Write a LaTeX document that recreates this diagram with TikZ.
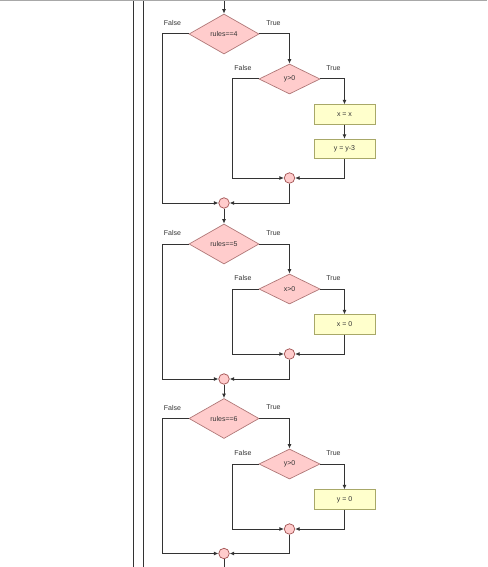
\documentclass[tikz,border=0pt]{standalone}
\usepackage{fontspec}
\setmainfont{Liberation Sans}
\usetikzlibrary{shapes.geometric,arrows.meta}
\definecolor{linec}{HTML}{333333}
\definecolor{decfill}{HTML}{FFCCCC}
\definecolor{decdraw}{HTML}{B07878}
\definecolor{boxfill}{HTML}{FFFFCC}
\definecolor{boxdraw}{HTML}{A8A868}
\definecolor{cirdraw}{HTML}{A05050}
\definecolor{topgray}{HTML}{A8A8A8}
\tikzset{
  every node/.style={font=\fontsize{7}{8}\selectfont, text=linec},
  bigdec/.style={diamond, aspect=1.75, inner sep=0pt, minimum width=70pt, minimum height=40pt, fill=decfill, draw=decdraw, line width=0.7pt},
  smalldec/.style={diamond, aspect=1.75, inner sep=0pt, minimum width=61pt, minimum height=30pt, fill=decfill, draw=decdraw, line width=0.7pt},
  actbox/.style={rectangle, inner sep=0pt, minimum width=61pt, minimum height=19.5pt, fill=boxfill, draw=boxdraw, line width=0.7pt},
  joincirc/.style={circle, inner sep=0pt, minimum size=10.5pt, fill=decfill, draw=cirdraw, line width=0.7pt},
  lbl/.style={inner sep=0pt},
  conn/.style={draw=linec, line width=1pt},
  arr/.style={conn, -{Latex[length=4.5pt,width=4pt]}},
}
\begin{document}
\begin{tikzpicture}[x=1pt,y=-1pt]
\useasboundingbox (0,0) rectangle (487,567);
\draw[topgray, line width=1.5pt] (0,0.75) -- (487,0.75);
\coordinate (v1t) at (133.5,1.5); \coordinate (v1b) at (133.5,567);
\coordinate (v2t) at (143.5,1.5); \coordinate (v2b) at (143.5,567);
\draw[conn] (v1t) -- (v1b);
\draw[conn] (v2t) -- (v2b);

% Block 1
\node[bigdec] (D1) at (224,34) {rules==4};
\node[smalldec] (d1) at (289.5,79) {y>0};
\node[actbox] (b11) at (344.5,114.5) {x = x};
\node[actbox] (b12) at (344.5,149) {y = y-3};
\node[joincirc] (ic1) at (289.5,178) {};
\node[joincirc] (oc1) at (224,203) {};
\node[lbl] (F1) at (172.5,23) {False};
\node[lbl] (T1) at (273.5,23) {True};
\node[lbl] (f1) at (243,68) {False};
\node[lbl] (t1) at (333.5,68) {True};

% Block 2
\node[bigdec] (D2) at (224,244) {rules==5};
\node[smalldec] (d2) at (289.5,289) {x>0};
\node[actbox] (b21) at (344.5,324.5) {x = 0};
\node[joincirc] (ic2) at (289.5,354) {};
\node[joincirc] (oc2) at (224,379) {};
\node[lbl] (F2) at (172.5,233) {False};
\node[lbl] (T2) at (273.5,233) {True};
\node[lbl] (f2) at (243,278) {False};
\node[lbl] (t2) at (333.5,278) {True};

% Block 3
\node[bigdec] (D3) at (224,418.5) {rules==6};
\node[smalldec] (d3) at (289.5,464) {y>0};
\node[actbox] (b31) at (344.5,499.5) {y = 0};
\node[joincirc] (ic3) at (289.5,529) {};
\node[joincirc] (oc3) at (224,553.5) {};
\node[lbl] (F3) at (172.5,407.5) {False};
\node[lbl] (T3) at (273.5,407.5) {True};
\node[lbl] (f3) at (243,453) {False};
\node[lbl] (t3) at (333.5,453) {True};

\coordinate (start) at (224,1.5);
\coordinate (finish) at (224,567);

% connectors block 1
\draw[arr] (start) -- (D1.north);
\draw[arr] (D1.west) -- ++(-26.5,0) |- (oc1.west);
\draw[arr] (D1.east) -| (d1.north);
\draw[arr] (d1.west) -- ++(-26,0) |- (ic1.west);
\draw[arr] (d1.east) -| (b11.north);
\draw[arr] (b11.south) -- (b12.north);
\draw[arr] (b12.south) |- (ic1.east);
\draw[arr] (ic1.south) |- (oc1.east);
\draw[arr] (oc1.south) -- (D2.north);

% connectors block 2
\draw[arr] (D2.west) -- ++(-26.5,0) |- (oc2.west);
\draw[arr] (D2.east) -| (d2.north);
\draw[arr] (d2.west) -- ++(-26,0) |- (ic2.west);
\draw[arr] (d2.east) -| (b21.north);
\draw[arr] (b21.south) |- (ic2.east);
\draw[arr] (ic2.south) |- (oc2.east);
\draw[arr] (oc2.south) -- (D3.north);

% connectors block 3
\draw[arr] (D3.west) -- ++(-26.5,0) |- (oc3.west);
\draw[arr] (D3.east) -| (d3.north);
\draw[arr] (d3.west) -- ++(-26,0) |- (ic3.west);
\draw[arr] (d3.east) -| (b31.north);
\draw[arr] (b31.south) |- (ic3.east);
\draw[arr] (ic3.south) |- (oc3.east);
\draw[conn] (oc3.south) -- (finish);
\end{tikzpicture}
\end{document}
